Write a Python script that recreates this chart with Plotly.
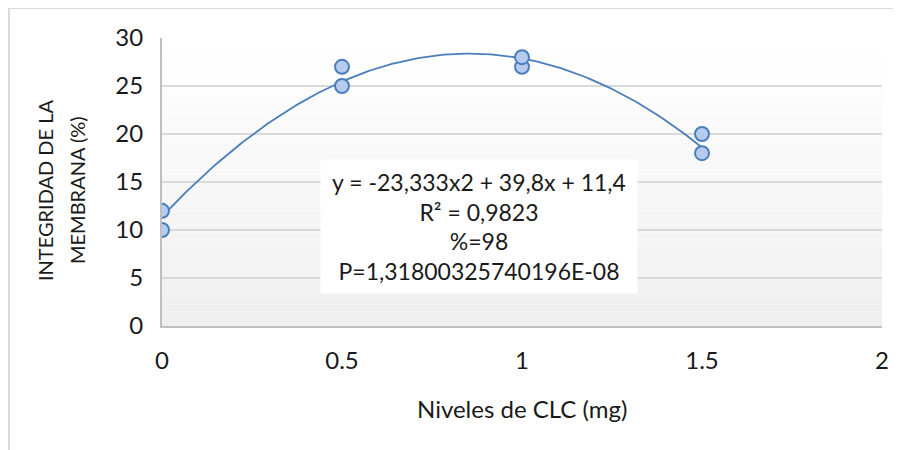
import numpy as np
import plotly.graph_objects as go

# Data
x_levels = [0, 0, 0.5, 0.5, 1, 1, 1.5, 1.5]
integridad = [10, 12, 25, 27, 27, 28, 18, 20]
# Trendline coefficients shown on the chart (a, b, c for a*x^2 + b*x + c)
trend_coef = [-23.333, 39.8, 11.4]
x_ticks = [0, 0.5, 1, 1.5, 2]
x_ticklabels = ["0", "0.5", "1", "1.5", "2"]
y_ticks = [0, 5, 10, 15, 20, 25, 30]
eq_lines = ["y = -23,333x2 + 39,8x + 11,4", "R² = 0,9823", "%=98", "P=1,31800325740196E-08"]

FONT = "Lato"
TXT = "#1a1a1a"

xs = np.linspace(min(x_levels), max(x_levels), 200)
ys = np.polyval(trend_coef, xs)

fig = go.Figure()
fig.add_trace(go.Scatter(x=xs, y=ys, mode="lines",
                         line=dict(color="#4a7ebb", width=1.8), hoverinfo="skip",
                         showlegend=False))
fig.add_trace(go.Scatter(x=x_levels, y=integridad, mode="markers",
                         marker=dict(size=14, color="#b7cbef",
                                     line=dict(color="#4a7ebb", width=2)),
                         showlegend=False))

# page body has an 8px offset; figure coordinates = reference pixels - 8
OFF = 8
W, H = 901 - OFF, 450 - OFF
L, T = 162 - OFF, 38 - OFF
R = W - (882 - OFF)
B = H - (326 - OFF)
pw, ph = W - L - R, H - T - B


def px_x(p):  # reference pixel -> paper x
    return (p - OFF - L) / pw


def px_y(p):  # reference pixel -> paper y
    return (T + ph - (p - OFF)) / ph


def dx(p):  # reference pixel -> data x
    return (p - 162) / 360.0


def dy(p):  # reference pixel -> data y
    return (326 - p) / 9.6


shapes = []
n = 40
for i in range(n):
    f = i / (n - 1)
    v = int(round(255 - (255 - 239) * (1 - f)))
    shapes.append(dict(type="rect", xref="paper", yref="paper",
                       x0=0, x1=1, y0=i / n, y1=(i + 1) / n,
                       fillcolor=f"rgb({v},{v},{v})", line=dict(width=0), layer="below"))
shapes.append(dict(type="rect", xref="paper", yref="paper",
                   x0=px_x(9), x1=px_x(930), y0=px_y(480), y1=px_y(8),
                   line=dict(color="#d9d9d9", width=2), fillcolor="rgba(0,0,0,0)",
                   layer="below"))

annotations = [
    dict(text="<br>".join(eq_lines), x=dx(479), y=dy(226.5), xref="x", yref="y",
         showarrow=False, bgcolor="white", width=316, height=133, borderpad=0,
         xanchor="center", yanchor="middle", align="center", valign="middle",
         font=dict(family=FONT, size=23, color=TXT)),
    dict(text="Niveles de CLC (mg)", xref="paper", yref="paper",
         x=0.5, y=px_y(408), showarrow=False, xanchor="center", yanchor="middle",
         font=dict(family=FONT, size=24, color=TXT)),
    dict(text="INTEGRIDAD DE LA", xref="paper", yref="paper",
         x=px_x(45), y=px_y(190), showarrow=False, textangle=-90,
         xanchor="center", yanchor="middle",
         font=dict(family=FONT, size=20, color=TXT)),
    dict(text="MEMBRANA (%)", xref="paper", yref="paper",
         x=px_x(77), y=px_y(190), showarrow=False, textangle=-90,
         xanchor="center", yanchor="middle",
         font=dict(family=FONT, size=20, color=TXT)),
]

fig.update_layout(
    width=W, height=H,
    margin=dict(l=L, r=R, t=T, b=B),
    paper_bgcolor="white", plot_bgcolor="rgba(0,0,0,0)",
    shapes=shapes, annotations=annotations,
    xaxis=dict(range=[0, 2], tickvals=x_ticks, ticktext=x_ticklabels,
               showgrid=False, zeroline=False, showline=True,
               linecolor="#bfbfbf", linewidth=2,
               ticks="outside", ticklen=12, tickcolor="rgba(0,0,0,0)",
               tickfont=dict(family=FONT, size=24, color=TXT)),
    yaxis=dict(range=[0, 30], tickvals=y_ticks,
               showgrid=True, gridcolor="#d9d9d9", gridwidth=1.5,
               zeroline=False, showline=True, linecolor="#bfbfbf", linewidth=2,
               ticks="outside", ticklen=12, tickcolor="rgba(0,0,0,0)",
               tickfont=dict(family=FONT, size=24, color=TXT)),
    hovermode=False,
)

fig.write_html("out.html")
